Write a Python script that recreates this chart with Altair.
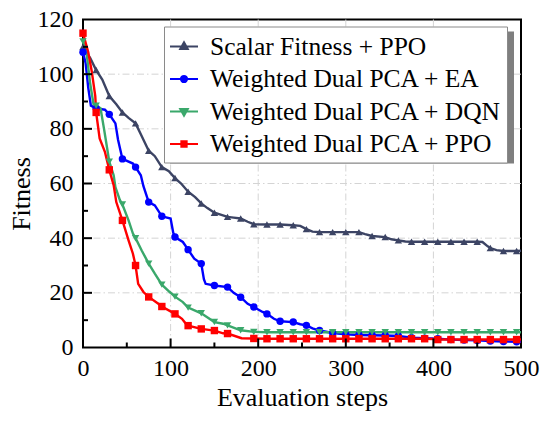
import altair as alt
import pandas as pd

series_names = ["Scalar Fitness + PPO", "Weighted Dual PCA + EA",
                "Weighted Dual PCA + DQN", "Weighted Dual PCA + PPO"]
colors = ["#3c4464", "#0000ff", "#3aa86b", "#ff0000"]
shapes = ["triangle-up", "circle", "triangle-down", "square"]
legend_paths = [
    "M-1,0H1M0,-0.3L0.27,0.17L-0.27,0.17ZM0,-0.15L0.13,0.08L-0.13,0.08ZM0,-0.03L0.03,0.02L-0.03,0.02Z",
    "M-1,0H1M0.22,0A0.22,0.22,0,1,1,-0.22,0A0.22,0.22,0,1,1,0.22,0Z"
    "M0.1,0A0.1,0.1,0,1,1,-0.1,0A0.1,0.1,0,1,1,0.1,0ZM0.02,0A0.02,0.02,0,1,1,-0.02,0A0.02,0.02,0,1,1,0.02,0Z",
    "M-1,0H1M0,0.3L0.27,-0.17L-0.27,-0.17ZM0,0.15L0.13,-0.08L-0.13,-0.08ZM0,0.03L0.03,-0.02L-0.03,-0.02Z",
    "M-1,0H1M-0.19,-0.19H0.19V0.19H-0.19ZM-0.09,-0.09H0.09V0.09H-0.09ZM-0.02,-0.02H0.02V0.02H-0.02Z",
]

scalar_x = [0, 3, 8, 15, 22, 30, 38, 45, 52, 60, 66, 75, 82, 90, 98, 105, 112, 120,
            128, 135, 142, 150, 158, 165, 172, 180, 188, 195, 210, 225, 240, 248, 255,
            262, 270, 285, 300, 315, 322, 330, 345, 352, 360, 368, 375, 390, 405, 420,
            435, 450, 456, 462, 465, 472, 480, 495, 500]
scalar_y = [110, 108, 106, 101.5, 98, 92, 89, 86, 84, 82, 78, 72, 70, 66, 64.5, 62, 60, 57,
            55, 52.7, 51, 49.3, 48.5, 47.8, 47.5, 47.2, 46, 45.1, 45, 45, 44.7, 44.5, 43.3,
            42.4, 42.2, 42.2, 42.2, 42.2, 41.5, 40.8, 40.4, 39.6, 39.2, 38.8, 38.7, 38.7, 38.7, 38.7,
            38.7, 38.7, 38.6, 37, 36.4, 35.6, 35.3, 35.3, 35.4]

ea_x = [0, 3, 6, 9, 15, 25, 30, 37, 40, 45, 57, 60, 66, 69, 75, 82, 90, 100, 103, 105,
        114, 120, 127, 135, 138, 140, 150, 165, 172, 180, 188, 195, 205, 210, 218, 225,
        240, 248, 255, 262, 270, 285, 300, 315, 330, 345, 360, 375, 390, 405, 420, 435,
        450, 465, 480, 495, 500]
ea_y = [108, 104, 95, 88.5, 87.5, 87, 85.3, 82, 76, 69, 67.3, 66, 63, 59, 53.2, 52, 48, 47.2, 42, 40.4,
        38.6, 35.8, 32.5, 30.7, 25, 23.3, 22.7, 22.1, 20, 18.4, 16, 14.8, 13, 12.3, 10.5, 9.6,
        9.3, 8.5, 8.1, 7, 6.2, 5.3, 4.8, 4.6, 4.5, 4.4, 4.2, 3.6, 3.4, 3.2, 2.9, 2.7,
        2.6, 2.4, 2.2, 2.1, 2.1]

dqn_x = [0, 4, 8, 12, 15, 20, 24, 27, 30, 35, 37, 42, 45, 52, 57, 60, 67, 75, 82, 90, 99,
         105, 114, 120, 135, 150, 160, 165, 180, 195, 210, 225, 240, 255, 270, 285, 300, 315,
         330, 345, 360, 375, 390, 405, 420, 435, 450, 465, 480, 495, 500]
dqn_y = [112, 108, 97, 89, 88.5, 87.5, 80, 74, 68, 63, 58.7, 54, 52.3, 46.5, 41.7, 40, 35.5, 30.7, 27, 23, 20.3,
         18.6, 16.6, 14.6, 12.5, 9.3, 8.7, 8.1, 6.3, 5.7, 5.6, 5.6, 5.6, 5.6, 5.6, 5.6, 5.6, 5.6,
         5.6, 5.6, 5.6, 5.6, 5.6, 5.6, 5.6, 5.6, 5.6, 5.6, 5.6, 5.6, 5.6]

ppo_x = [0, 6, 10, 14, 15, 19, 25, 30, 35, 38, 45, 52, 57, 60, 63, 69, 75, 86, 90, 105, 113,
         118, 120, 135, 150, 160, 165, 181, 195, 210, 225, 240, 255, 270, 285, 300, 315, 330,
         345, 360, 375, 390, 400, 405, 420, 435, 450, 465, 480, 495, 500]
ppo_y = [115, 108, 101, 92, 86, 76.5, 71.6, 65, 59.4, 53.2, 46.5, 39.2, 34.3, 30, 23.3, 20.3, 18.5, 16, 15, 12.3, 10.5,
         8.5, 8, 6.8, 6.2, 5.2, 5.1, 3.4, 3.3, 3.2, 3.2, 3.2, 3.2, 3.2, 3.2, 3.2, 3.2, 3.2,
         3.2, 3.2, 3.2, 3.2, 3.1, 2.9, 2.9, 2.9, 2.9, 2.9, 2.9, 2.9, 2.9]

x_labels = [0, 100, 200, 300, 400, 500]
y_labels = [0, 20, 40, 60, 80, 100, 120]
x_grid = [100, 200, 300, 400]
y_grid = [20, 40, 60, 80, 100]
x_minor = [50, 150, 250, 350, 450]
y_minor = [10, 30, 50, 70, 90, 110]

rows = []
for name, xs, ys in zip(series_names, [scalar_x, ea_x, dqn_x, ppo_x],
                        [scalar_y, ea_y, dqn_y, ppo_y]):
    for xv, yv in zip(xs, ys):
        rows.append({"series": name, "x": xv, "y": yv, "m": xv % 15 == 0})
df = pd.DataFrame(rows)

W, H = 438, 328
FONT = "Liberation Serif"

xscale = alt.Scale(domain=[0, 500], nice=False, zero=False)
yscale = alt.Scale(domain=[0, 120], nice=False, zero=False)

xaxis = alt.Axis(values=x_labels, title="Evaluation steps", grid=False, ticks=False, tickSize=0,
                 domain=False, labelFont=FONT, labelFontSize=24, labelColor="black",
                 labelPadding=9, labelFlush=False, titleFont=FONT, titleFontSize=26,
                 titleFontWeight="normal", titleColor="black", titlePadding=4)
yaxis = alt.Axis(values=y_labels, title="Fitness", grid=False, ticks=False, tickSize=0,
                 domain=False, labelFont=FONT, labelFontSize=24, labelColor="black",
                 labelPadding=10, labelFlush=False, titleFont=FONT, titleFontSize=26,
                 titleFontWeight="normal", titleColor="black", titleAngle=270,
                 titleX=-62, titleY=174, titleAlign="center", titleBaseline="middle")

legend = alt.Legend(title=None, orient="none", legendX=81, legendY=7, direction="vertical",
                    symbolSize=784, symbolStrokeWidth=2, labelFont=FONT, labelFontSize=25.5,
                    labelColor="black", labelOffset=11, labelLimit=600, rowPadding=3.5,
                    padding=5, fillColor="white", strokeColor="#8a8a8a", zindex=5)

cscale = alt.Scale(domain=series_names, range=colors)

def X():
    return alt.X("x:Q", scale=xscale, axis=xaxis)

def Y():
    return alt.Y("y:Q", scale=yscale, axis=yaxis)

base = alt.Chart(df)

lines = base.mark_line(strokeWidth=2.4).encode(
    x=X(), y=Y(),
    color=alt.Color("series:N", scale=cscale, legend=legend),
)

point_layers = []
for name, col, shp in zip(series_names, colors, shapes):
    point_layers.append(
        base.transform_filter(alt.datum.series == name).transform_filter("datum.m")
        .mark_point(filled=True, size=55, opacity=1, shape=shp, color=col).encode(x=X(), y=Y())
    )

legend_layer = base.transform_filter("false").mark_point(filled=False, strokeWidth=2, opacity=1).encode(
    x=X(), y=Y(),
    color=alt.Color("series:N", scale=cscale, legend=legend),
    shape=alt.Shape("series:N", scale=alt.Scale(domain=series_names, range=legend_paths), legend=legend),
)

gx = alt.Chart(pd.DataFrame({"x": x_grid})).mark_rule(
    color="#d4d4d4", strokeWidth=1, strokeDash=[7, 3, 1.5, 3]).encode(x=X())
gy = alt.Chart(pd.DataFrame({"y": y_grid})).mark_rule(
    color="#d4d4d4", strokeWidth=1, strokeDash=[7, 3, 1.5, 3]).encode(y=Y())

tx_major = alt.Chart(pd.DataFrame({"x": x_grid})).mark_rule(color="black", strokeWidth=2).encode(
    x=X(), y=alt.value(H), y2=alt.value(H - 9))
tx_minor = alt.Chart(pd.DataFrame({"x": x_minor})).mark_rule(color="black", strokeWidth=2).encode(
    x=X(), y=alt.value(H), y2=alt.value(H - 5))
ty_major = alt.Chart(pd.DataFrame({"y": y_grid})).mark_rule(color="black", strokeWidth=2).encode(
    y=Y(), x=alt.value(0), x2=alt.value(9))
ty_minor = alt.Chart(pd.DataFrame({"y": y_minor})).mark_rule(color="black", strokeWidth=2).encode(
    y=Y(), x=alt.value(0), x2=alt.value(5))

shadow = alt.Chart(pd.DataFrame({"k": [0]})).mark_rect(color="#7f7f7f").encode(
    x=alt.value(87), x2=alt.value(431), y=alt.value(12), y2=alt.value(144))

chart = alt.layer(gx, gy, lines, *point_layers, shadow, legend_layer,
                  tx_major, tx_minor, ty_major, ty_minor).properties(
    width=W, height=H,
    padding={"left": 75, "top": 11.5, "right": 21, "bottom": 70},
    autosize=alt.AutoSizeParams(type="none"),
    background="white",
).configure_view(stroke="black", strokeWidth=2)

chart.save("out.html", embed_options={"renderer": "svg", "actions": False})
